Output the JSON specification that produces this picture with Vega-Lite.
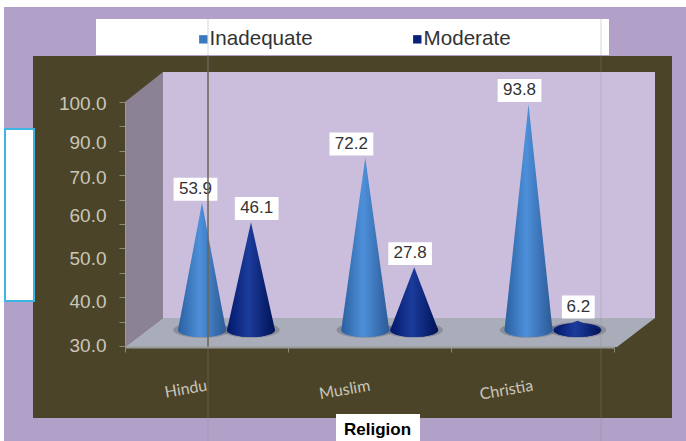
{
  "$schema": "https://vega.github.io/schema/vega-lite/v6.json",
  "width": 686,
  "height": 441,
  "padding": 0,
  "autosize": {"type": "none"},
  "background": "#ffffff",
  "config": {"view": {"stroke": null}, "font": "Liberation Sans"},
  "datasets": {
    "shares": [
      {"religion": "Hindu", "series": "Inadequate", "value": 53.9},
      {"religion": "Hindu", "series": "Moderate", "value": 46.1},
      {"religion": "Muslim", "series": "Inadequate", "value": 72.2},
      {"religion": "Muslim", "series": "Moderate", "value": 27.8},
      {"religion": "Christia", "series": "Inadequate", "value": 93.8},
      {"religion": "Christia", "series": "Moderate", "value": 6.2}
    ],
    "panels": [
      {"part": "page", "left": 4, "right": 686, "top": 7, "bottom": 441},
      {"part": "frame", "left": 33, "right": 672, "top": 56, "bottom": 418},
      {"part": "wall", "left": 163, "right": 655, "top": 72, "bottom": 318},
      {"part": "box", "left": 96, "right": 609, "top": 19, "bottom": 55},
      {"part": "box", "left": 336, "right": 420, "top": 414, "bottom": 441}
    ],
    "sideWall": [
      {"h": 125, "upper": 102, "lower": 347},
      {"h": 163, "upper": 72, "lower": 318}
    ],
    "floor": [
      {"h": 125, "upper": 347, "lower": 347},
      {"h": 163, "upper": 318, "lower": 347},
      {"h": 617, "upper": 318, "lower": 347},
      {"h": 655, "upper": 318, "lower": 318}
    ],
    "sideBox": [{"left": 5, "right": 34, "top": 129, "bottom": 301}],
    "guideDark": [{"h": 208, "top": 56, "bottom": 347}],
    "guideFaint": [{"h": 601, "top": 19, "bottom": 441}, {"h": 208, "top": 347, "bottom": 441}, {"h": 208, "top": 19, "bottom": 56}],
    "ticks": [{"tick": 0}, {"tick": 100}],
    "labelTicks": [{"tick": 30}, {"tick": 100}]
  },
  "resolve": {"scale": {"x": "independent", "y": "independent", "fill": "independent"}},
  "layer": [
    {
      "layer": [
        {
          "data": {"name": "panels"},
          "mark": {"type": "rect"},
          "encoding": {
            "x": {"field": "left", "type": "quantitative", "axis": null, "scale": {"domain": [0, 686], "range": [0, 686]}},
            "x2": {"field": "right"},
            "y": {"field": "top", "type": "quantitative", "axis": null, "scale": {"domain": [0, 441], "range": [0, 441]}},
            "y2": {"field": "bottom"},
            "fill": {
              "field": "part", "type": "nominal", "legend": null,
              "scale": {"domain": ["page", "frame", "wall", "box"], "range": ["#b1a0c8", "#4c4429", "#cbbedd", "#ffffff"]}
            }
          }
        },
        {
          "data": {"name": "sideWall"},
          "mark": {"type": "area", "color": "#8b8296"},
          "encoding": {
            "x": {"field": "h", "type": "quantitative", "axis": null, "scale": {"domain": [0, 686], "range": [0, 686]}},
            "y": {"field": "upper", "type": "quantitative", "axis": null, "stack": null, "scale": {"domain": [0, 441], "range": [0, 441]}},
            "y2": {"field": "lower"}
          }
        },
        {
          "data": {"name": "floor"},
          "mark": {"type": "area", "color": "#a9adb9"},
          "encoding": {
            "x": {"field": "h", "type": "quantitative", "axis": null, "scale": {"domain": [0, 686], "range": [0, 686]}},
            "y": {"field": "upper", "type": "quantitative", "axis": null, "stack": null, "scale": {"domain": [0, 441], "range": [0, 441]}},
            "y2": {"field": "lower"}
          }
        },
        {
          "data": {"name": "sideBox"},
          "mark": {"type": "rect", "fill": "#ffffff", "stroke": "#3db5e2", "strokeWidth": 2},
          "encoding": {
            "x": {"field": "left", "type": "quantitative", "axis": null, "scale": {"domain": [0, 686], "range": [0, 686]}},
            "x2": {"field": "right"},
            "y": {"field": "top", "type": "quantitative", "axis": null, "scale": {"domain": [0, 441], "range": [0, 441]}},
            "y2": {"field": "bottom"}
          }
        }
      ]
    },
    {
      "data": {"name": "ticks"},
      "mark": {"type": "point", "size": 0, "opacity": 0},
      "encoding": {
        "y": {
          "field": "tick", "type": "quantitative",
          "scale": {"domain": [0, 100], "range": [346, 102], "nice": false},
          "axis": {
            "orient": "left", "offset": -125, "title": null, "grid": false, "zindex": 1,
            "values": [0, 10, 20, 30, 40, 50, 60, 70, 80, 90, 100],
            "labels": false, "tickSize": 6, "tickColor": "#8f8b7c", "domainColor": "#9a9a9a"
          }
        }
      }
    },
    {
      "data": {"name": "labelTicks"},
      "mark": {"type": "point", "size": 0, "opacity": 0},
      "encoding": {
        "y": {
          "field": "tick", "type": "quantitative",
          "scale": {"domain": [30, 40, 50, 60, 70, 90, 100], "range": [345, 301, 258, 215, 177, 142, 103]},
          "axis": {
            "orient": "left", "offset": -125, "title": null, "grid": false, "domain": false, "ticks": false, "zindex": 1,
            "values": [30, 40, 50, 60, 70, 90, 100], "format": ".1f",
            "labelFontSize": 19, "labelColor": "#c9c6b8", "labelPadding": 19, "labelFont": "Liberation Sans"
          }
        }
      }
    },
    {
      "data": {"name": "shares"},
      "mark": {"type": "point", "size": 0, "opacity": 0},
      "encoding": {
        "x": {
          "field": "religion", "type": "nominal", "sort": ["Hindu", "Muslim", "Christia"],
          "scale": {"range": [125, 614], "paddingInner": 0, "paddingOuter": 0},
          "axis": {
            "orient": "bottom", "offset": -94, "title": "Religion", "grid": false, "labelAngle": -10, "zindex": 1,
            "labelAlign": "right", "labelBaseline": "middle", "labelPadding": 33, "labelFontSize": 16,
            "labelFont": "Lato", "labelColor": "#c9c6b8", "tickBand": "extent", "tickSize": 5,
            "tickColor": "#8f8b7c", "domainColor": "#9a9a9a", "domainWidth": 2,
            "titleFontSize": 17, "titleFontWeight": "bold", "titleColor": "#000000",
            "titleX": 377, "titleY": 82, "titleBaseline": "middle", "titleFont": "Liberation Sans"
          }
        }
      }
    },
    {
      "data": {"name": "shares"},
      "transform": [
        {"calculate": "indexof(['Hindu','Muslim','Christia'], datum.religion) + (datum.series === 'Inadequate' ? -0.15 : 0.15)", "as": "centre"},
        {"calculate": "[-1, 0, 1]", "as": "edge"},
        {"flatten": ["edge"]},
        {"calculate": "datum.centre + datum.edge * 0.147", "as": "outline"},
        {"calculate": "datum.edge === 0 ? datum.value : 2.4", "as": "height"},
        {"calculate": "2.4", "as": "rest"}
      ],
      "encoding": {
        "x": {"type": "quantitative", "axis": null, "scale": {"domain": [-1.3874, 2.8147], "range": [0, 686]}},
        "y": {"type": "quantitative", "axis": null, "scale": {"domain": [0, 100], "range": [336, 89], "nice": false}}
      },
      "layer": [
        {
          "transform": [{"filter": "datum.edge === 0"}],
          "mark": {"type": "point", "filled": true, "opacity": 0.28, "shape": "M-1,0A1,0.27 0 1,0 1,0A1,0.27 0 1,0 -1,0Z", "size": 3300, "color": "#3a3a44"},
          "encoding": {
            "x": {"field": "centre", "type": "quantitative"},
            "y": {"field": "rest", "type": "quantitative"}
          }
        },
        {
          "transform": [{"filter": "datum.edge === 0"}],
          "mark": {"type": "point", "filled": true, "opacity": 1, "shape": "M-1,0A1,0.29 0 1,0 1,0A1,0.29 0 1,0 -1,0Z", "size": 2304},
          "encoding": {
            "x": {"field": "centre", "type": "quantitative"},
            "y": {"field": "rest", "type": "quantitative"},
            "fill": {
              "field": "series", "type": "nominal",
              "scale": {"domain": ["Inadequate", "Moderate"], "range": ["#3a78c0", "#0a1f78"]},
              "legend": {
                "orient": "none", "legendX": 193, "legendY": 29, "title": null, "direction": "horizontal", "columns": 2,
                "symbolType": "square", "symbolSize": 70, "labelFontSize": 20.6, "labelColor": "#333333",
                "labelFont": "Liberation Sans", "columnPadding": 94, "labelOffset": -4, "symbolOpacity": 1, "labelLimit": 200
              }
            }
          }
        },
        {
          "transform": [{"filter": "datum.series === 'Inadequate'"}],
          "mark": {
            "type": "area",
            "color": {"gradient": "linear", "x1": 0, "x2": 1, "y1": 0, "y2": 0, "stops": [
              {"offset": 0, "color": "#2a5f9f"}, {"offset": 0.45, "color": "#4d90da"}, {"offset": 1, "color": "#2c5a96"}
            ]}
          },
          "encoding": {
            "x": {"field": "outline", "type": "quantitative"},
            "y": {"field": "height", "type": "quantitative", "stack": null},
            "y2": {"field": "rest"},
            "detail": {"field": "religion"}
          }
        },
        {
          "transform": [{"filter": "datum.series === 'Moderate'"}],
          "mark": {
            "type": "area",
            "color": {"gradient": "linear", "x1": 0, "x2": 1, "y1": 0, "y2": 0, "stops": [
              {"offset": 0, "color": "#02186a"}, {"offset": 0.45, "color": "#1b3c9c"}, {"offset": 1, "color": "#011256"}
            ]}
          },
          "encoding": {
            "x": {"field": "outline", "type": "quantitative"},
            "y": {"field": "height", "type": "quantitative", "stack": null},
            "y2": {"field": "rest"},
            "detail": {"field": "religion"}
          }
        },
        {
          "transform": [
            {"filter": "datum.edge === 0 && datum.series === 'Inadequate'"}
          ],
          "mark": {
            "type": "point", "filled": true, "opacity": 1, "shape": "M-1,0A1,0.29 0 1,0 1,0Z", "size": 2304,
            "fill": {"gradient": "linear", "x1": 0, "x2": 1, "y1": 0, "y2": 0, "stops": [
              {"offset": 0, "color": "#2a5f9f"}, {"offset": 0.45, "color": "#4d90da"}, {"offset": 1, "color": "#2c5a96"}
            ]}
          },
          "encoding": {
            "x": {"field": "centre", "type": "quantitative"},
            "y": {"field": "rest", "type": "quantitative"}
          }
        },
        {
          "transform": [
            {"filter": "datum.edge === 0 && datum.series === 'Moderate'"}
          ],
          "mark": {
            "type": "point", "filled": true, "opacity": 1, "shape": "M-1,0A1,0.29 0 1,0 1,0Z", "size": 2304,
            "fill": {"gradient": "linear", "x1": 0, "x2": 1, "y1": 0, "y2": 0, "stops": [
              {"offset": 0, "color": "#02186a"}, {"offset": 0.45, "color": "#1b3c9c"}, {"offset": 1, "color": "#011256"}
            ]}
          },
          "encoding": {
            "x": {"field": "centre", "type": "quantitative"},
            "y": {"field": "rest", "type": "quantitative"}
          }
        },
        {
          "transform": [
            {"filter": "datum.edge === 0"},
            {"calculate": "datum.centre + {'53.9': -0.04, '46.1': 0.035, '72.2': -0.085, '27.8': -0.025, '93.8': -0.055, '6.2': 0.005}[format(datum.value, '.1f')]", "as": "labelCentre"},
            {"calculate": "datum.labelCentre - length(format(datum.value, '.1f')) * 0.0335", "as": "boxLeft"},
            {"calculate": "datum.labelCentre + length(format(datum.value, '.1f')) * 0.0335", "as": "boxRight"},
            {"calculate": "datum.value + 0.9", "as": "boxLow"},
            {"calculate": "datum.value + 10.2", "as": "boxHigh"},
            {"calculate": "datum.value + 5.7", "as": "labelAt"}
          ],
          "layer": [
            {
              "mark": {"type": "rect", "fill": "#ffffff"},
              "encoding": {
                "x": {"field": "boxLeft", "type": "quantitative"},
                "x2": {"field": "boxRight"},
                "y": {"field": "boxLow", "type": "quantitative"},
                "y2": {"field": "boxHigh"}
              }
            },
            {
              "mark": {"type": "text", "fontSize": 17, "color": "#333333", "baseline": "middle", "align": "center", "font": "Liberation Sans"},
              "encoding": {
                "x": {"field": "labelCentre", "type": "quantitative"},
                "y": {"field": "labelAt", "type": "quantitative"},
                "text": {"field": "value", "type": "quantitative", "format": ".1f"}
              }
            }
          ]
        }
      ]
    },
    {
      "data": {"name": "guideDark"},
      "mark": {"type": "rule", "color": "#6d6553", "strokeWidth": 1.5},
      "encoding": {
        "x": {"field": "h", "type": "quantitative", "axis": null, "scale": {"domain": [0, 686], "range": [0, 686]}},
        "y": {"field": "top", "type": "quantitative", "axis": null, "scale": {"domain": [0, 441], "range": [0, 441]}},
        "y2": {"field": "bottom"}
      }
    },
    {
      "data": {"name": "guideFaint"},
      "mark": {"type": "rule", "color": "#8d8a86", "strokeWidth": 1, "opacity": 0.35},
      "encoding": {
        "x": {"field": "h", "type": "quantitative", "axis": null, "scale": {"domain": [0, 686], "range": [0, 686]}},
        "y": {"field": "top", "type": "quantitative", "axis": null, "scale": {"domain": [0, 441], "range": [0, 441]}},
        "y2": {"field": "bottom"}
      }
    }
  ]
}
